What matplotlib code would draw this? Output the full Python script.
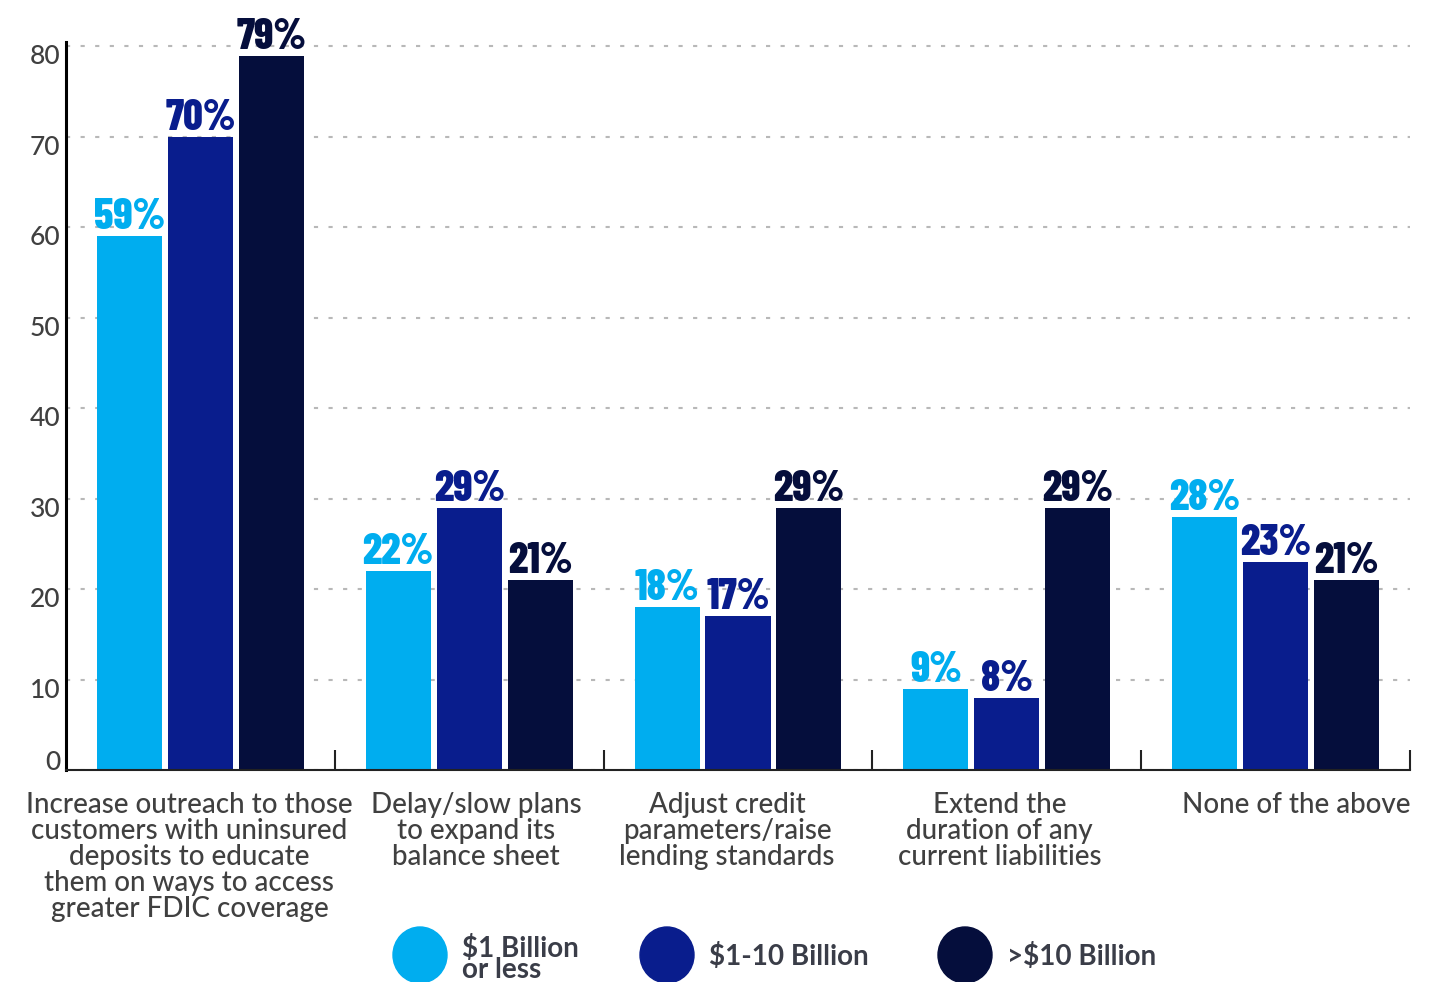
import matplotlib.pyplot as plt
from matplotlib.patches import Ellipse
from matplotlib.transforms import ScaledTranslation
import numpy as np

# survey answers by bank size
categories = [
    "Increase outreach to those\ncustomers with uninsured\ndeposits to educate\nthem on ways to access\ngreater FDIC coverage",
    "Delay/slow plans\nto expand its\nbalance sheet",
    "Adjust credit\nparameters/raise\nlending standards",
    "Extend the\nduration of any\ncurrent liabilities",
    "None of the above",
]
small_banks = [59, 22, 18, 9, 28]
mid_banks = [70, 29, 17, 8, 23]
large_banks = [79, 21, 29, 29, 21]
series_names = ["$1 Billion\nor less", "$1-10 Billion", ">$10 Billion"]
yticks = [0, 10, 20, 30, 40, 50, 60, 70, 80]

colors = ["#00ADEF", "#091D8D", "#050E3C"]
text_gray = "#404040"
label_font = ["Lato", "DejaVu Sans"]
value_font = ["Barlow Condensed", "DejaVu Sans"]

fig = plt.figure(figsize=(14.54, 9.82), dpi=100)
ax = fig.add_axes([66 / 1454, 212 / 982, 1344 / 1454, 728.5 / 982])


def px_shift(dx, dy):
    return ScaledTranslation(dx / 100, dy / 100, fig.dpi_scale_trans)


x = np.arange(len(categories))
width = 0.242
step = 0.264
for i, vals in enumerate([small_banks, mid_banks, large_banks]):
    xs = x + (i - 1) * step
    ax.bar(xs, vals, width=width, color=colors[i], zorder=2)
    for xi, v in zip(xs, vals):
        ax.annotate(f"{v}%", (xi, v), xytext=(0, 5), textcoords="offset points",
                    ha="center", va="baseline", fontsize=31, fontweight=800,
                    family=value_font, color=colors[i])

ax.set_xlim(-0.5, 4.5)
ax.set_ylim(0, 80.55)

# spines
for s in ["top", "right"]:
    ax.spines[s].set_visible(False)
ax.spines["left"].set_linewidth(2.2)
ax.spines["left"].set_color("black")
ax.spines["bottom"].set_linewidth(1.5)
ax.spines["bottom"].set_color("#222222")

# dotted gridlines
ax.set_axisbelow(True)
ax.yaxis.grid(True, color="#b8b8b8", linewidth=1.5, linestyle=(0, (2, 5)))

ax.set_yticks(yticks)
ax.set_yticklabels([str(t) for t in yticks], fontsize=19, color=text_gray,
                   family=label_font, fontweight=500)
ax.tick_params(axis="y", length=0, pad=4)
for t, lab in zip(yticks, ax.get_yticklabels()):
    lab.set_transform(lab.get_transform() + px_shift(0, 10 if t == 0 else -8))

# category labels under the groups, separators between them
ax.set_xticks(x)
ax.set_xticklabels(categories, fontsize=20, color=text_gray, family=label_font,
                   fontweight=500, linespacing=1.0)
ax.tick_params(axis="x", which="major", length=0, pad=16)
for dx, lab in zip([-11, 7, -11, -7, 21], ax.get_xticklabels()):
    lab.set_transform(lab.get_transform() + px_shift(dx, 0))
ax.set_xticks(x + 0.5, minor=True)
ax.tick_params(axis="x", which="minor", direction="in", length=14.4, width=1.5,
               color="#222222")

# legend drawn with big circles along the bottom
lax = fig.add_axes([0, 0, 1, 1], zorder=5)
lax.set_xlim(0, 1454)
lax.set_ylim(982, 0)
lax.axis("off")
legend_x = [420, 667, 965]
for cx, name, c in zip(legend_x, series_names, colors):
    lax.add_patch(Ellipse((cx, 955), 54, 56, color=c, clip_on=False))
    lax.text(cx + 42, 959 if "\n" in name else 957, name, ha="left", va="center",
             fontsize=20, fontweight="bold", family=label_font, color="#3a3d48",
             linespacing=0.8)

fig.savefig("out.png", dpi=100)
